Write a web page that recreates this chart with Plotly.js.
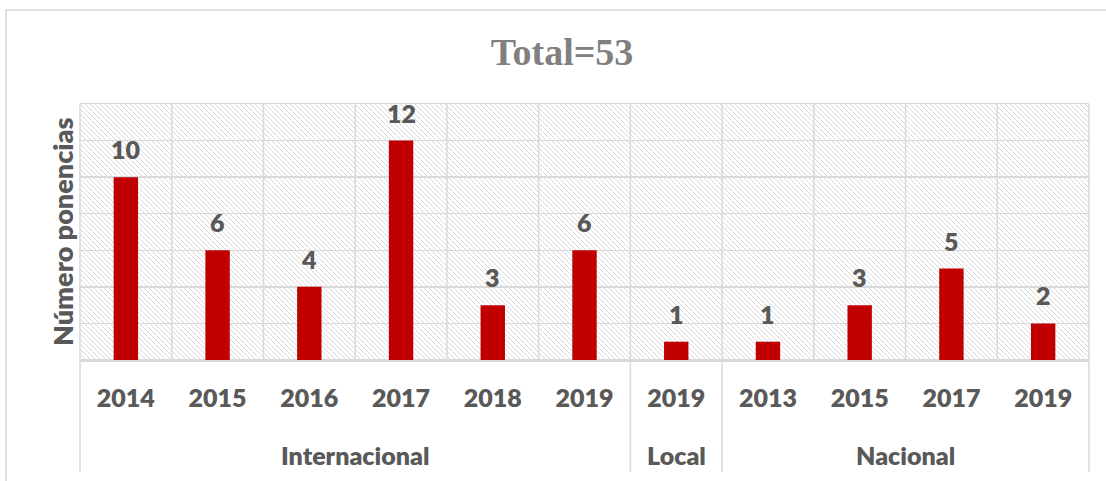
<!DOCTYPE html>
<html>
<head>
<meta charset="utf-8">
<script src="https://cdn.plot.ly/plotly-3.0.1.min.js"></script>
<style>html,body{margin:0;padding:0;background:#fff;}#chart{width:1106px;height:481px;}</style>
</head>
<body>
<div id="chart"></div>
<script>
const chartTitle = 'Total=53';
const yTitle = 'Número ponencias';
const groups = ['Internacional','Internacional','Internacional','Internacional','Internacional','Internacional','Local','Nacional','Nacional','Nacional','Nacional'];
const years  = ['2014','2015','2016','2017','2018','2019','2019','2013','2015','2017','2019'];
const values = [10, 6, 4, 12, 3, 6, 1, 1, 3, 5, 2];

const n = values.length;
const idx = values.map((_, i) => i);
const textColor = '#595959';
const gridColor = '#d9d9d9';
const labelFont = {family: 'Lato, "Open Sans", sans-serif', size: 25, color: textColor, weight: 800};
const yTitleFont = {family: 'Lato, "Open Sans", sans-serif', size: 27, color: textColor, weight: 800};

// group runs
const runs = [];
groups.forEach((g, i) => {
  if (runs.length && runs[runs.length - 1].name === g) runs[runs.length - 1].end = i;
  else runs.push({name: g, start: i, end: i});
});

const shapes = [];
const boundaries = new Set([0]);
runs.forEach(r => boundaries.add(r.end + 1));
for (let k = 0; k <= n; k++) {
  const isDiv = boundaries.has(k);
  shapes.push({type: 'line', xref: 'paper', yref: 'paper', x0: k / n, x1: k / n,
    y0: isDiv ? -0.4375 : 0, y1: 1, layer: 'below', line: {color: gridColor, width: 1.5}});
}
// outer chart border
shapes.push({type: 'rect', xref: 'paper', yref: 'paper', x0: -74 / 1009, x1: 1040 / 1009,
  y0: -140 / 256, y1: 1 + 94 / 256, layer: 'below', line: {color: gridColor, width: 1.5}});

const annotations = [];
values.forEach((v, i) => annotations.push({x: i, y: v, xref: 'x', yref: 'y', text: String(v),
  showarrow: false, yanchor: 'bottom', yshift: 11, font: labelFont}));
runs.forEach(r => annotations.push({x: (r.start + r.end) / 2, y: 0, xref: 'x', yref: 'paper',
  text: r.name, showarrow: false, yanchor: 'middle', yshift: -95, font: labelFont}));
annotations.push({x: 0, y: 0.5, xref: 'paper', yref: 'paper', xshift: -18, text: yTitle,
  textangle: -90, showarrow: false, xanchor: 'center', yanchor: 'middle', font: yTitleFont});

const svg = "<svg xmlns='http://www.w3.org/2000/svg' width='1009' height='256'>" +
  "<defs><pattern id='h' width='5' height='5' patternUnits='userSpaceOnUse'>" +
  "<path d='M-1,-1 L6,6 M4,-1 L6,1 M-1,4 L1,6' stroke='#d8d8d8' stroke-width='1'/></pattern></defs>" +
  "<rect width='100%' height='100%' fill='white'/><rect width='100%' height='100%' fill='url(#h)'/></svg>";

const trace = {
  type: 'bar', x: idx, y: values, width: 0.266,
  marker: {color: '#C00000', line: {width: 0}},
  hoverinfo: 'skip'
};

const layout = {
  width: 1106, height: 481,
  margin: {l: 80, r: 17, t: 104, b: 121, pad: 0},
  paper_bgcolor: '#ffffff', plot_bgcolor: 'rgba(0,0,0,0)',
  title: {text: chartTitle, x: 562 / 1106, xref: 'container', xanchor: 'center',
    y: 1 - 52 / 481, yref: 'container', yanchor: 'middle',
    font: {family: '"Liberation Serif", serif', size: 38, color: '#808080', weight: 'bold'}},
  showlegend: false,
  xaxis: {range: [-0.5, n - 0.5], tickmode: 'array', tickvals: idx, ticktext: years,
    showgrid: false, zeroline: false, ticks: 'outside', ticklen: 15, tickcolor: 'rgba(0,0,0,0)',
    tickfont: labelFont, showline: true, mirror: true, linecolor: gridColor, linewidth: 1.5, fixedrange: true},
  yaxis: {range: [0, 14], dtick: 2, tick0: 0, showticklabels: false, showgrid: true,
    gridcolor: gridColor, gridwidth: 1.5, zeroline: true, zerolinecolor: gridColor, zerolinewidth: 1.5,
    ticks: '', fixedrange: true},
  shapes: shapes,
  annotations: annotations,
  images: [{source: 'data:image/svg+xml;charset=utf-8,' + encodeURIComponent(svg),
    xref: 'paper', yref: 'paper', x: 0, y: 1, sizex: 1, sizey: 1,
    xanchor: 'left', yanchor: 'top', sizing: 'stretch', layer: 'below'}]
};

Plotly.newPlot('chart', [trace], layout, {displayModeBar: false, staticPlot: true});
</script>
</body>
</html>
